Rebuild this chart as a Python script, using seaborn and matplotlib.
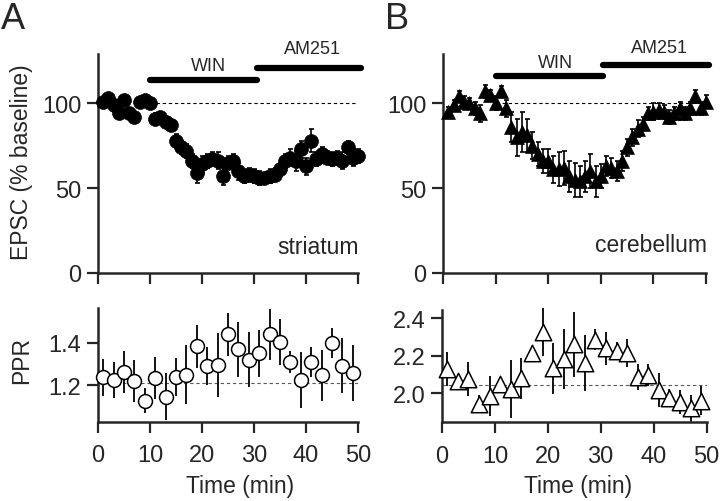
import numpy as np
import matplotlib
matplotlib.use("Agg")
import matplotlib.pyplot as plt
import seaborn as sns

sns.set_style("ticks")
plt.rcParams["font.family"] = ["Liberation Sans", "DejaVu Sans"]

# --- data ---
time_epsc = np.arange(1, 51)
epsc_str = [101, 103, 99, 94, 102, 94, 92, 101, 102, 100,
            91, 92, 89, 87, 78, 74, 72, 66, 59, 64,
            66, 67, 66, 57, 65, 66, 60, 57, 58, 57,
            56, 56, 57, 58, 61, 66, 68, 66, 73, 63,
            78, 67, 70, 68, 67, 68, 66, 74, 68, 69]
epsc_str_err = [2, 2, 2, 3, 2, 3, 3, 2, 2, 2,
                3, 3, 3, 3, 4, 4, 4, 4, 6, 5,
                4, 4, 5, 5, 4, 4, 5, 4, 4, 4,
                4, 3, 4, 4, 4, 4, 5, 6, 5, 5,
                7, 4, 4, 4, 4, 4, 5, 4, 5, 4]
epsc_cb = [95, 99, 104, 101, 100, 97, 94, 107, 105, 100,
           107, 97, 86, 80, 83, 81, 75, 70, 66, 66,
           61, 61, 62, 57, 55, 54, 57, 60, 54, 57,
           63, 62, 60, 66, 74, 80, 85, 88, 94, 95,
           96, 95, 92, 94, 97, 94, 97, 104, 97, 101]
epsc_cb_err = [3, 3, 3, 3, 3, 4, 5, 4, 3, 4,
               3, 5, 9, 11, 12, 10, 8, 7, 7, 7,
               8, 10, 10, 9, 10, 9, 9, 10, 9, 7,
               6, 6, 6, 6, 5, 5, 5, 4, 4, 5,
               4, 4, 4, 4, 4, 4, 4, 4, 4, 4]

time_ppr = np.arange(1, 50, 2)
ppr_str = [1.237, 1.225, 1.264, 1.221, 1.127, 1.234, 1.146, 1.240, 1.250, 1.383,
           1.292, 1.295, 1.440, 1.370, 1.320, 1.350, 1.440, 1.405, 1.310, 1.225,
           1.310, 1.247, 1.398, 1.292, 1.258]
ppr_str_err = [0.088, 0.086, 0.10, 0.10, 0.06, 0.10, 0.11, 0.09, 0.14, 0.10,
               0.09, 0.15, 0.10, 0.13, 0.13, 0.11, 0.12, 0.11, 0.05, 0.13,
               0.07, 0.12, 0.07, 0.13, 0.13]
ppr_cb = [2.129, 2.066, 2.075, 1.941, 1.982, 2.048, 2.021, 2.080, 2.212, 2.325,
          2.132, 2.182, 2.262, 2.161, 2.286, 2.239, 2.227, 2.214, 2.084, 2.096,
          2.018, 1.973, 1.950, 1.918, 1.959]
ppr_cb_err = [0.092, 0.036, 0.089, 0.049, 0.107, 0.04, 0.154, 0.11, 0.04, 0.129,
              0.136, 0.16, 0.174, 0.149, 0.058, 0.089, 0.045, 0.074, 0.069, 0.06,
              0.091, 0.046, 0.064, 0.073, 0.077]

ppr_base_str = 1.21
ppr_base_cb = 2.043
win_period = (10, 30.5)
am251_period = (30.5, 50.6)

fig = plt.figure(figsize=(7.2, 5.02), dpi=100)
W, H = 720.0, 502.0


def make_ax(x0, x1, ytop, ybot):
    return fig.add_axes([x0 / W, 1 - ybot / H, (x1 - x0) / W, (ybot - ytop) / H])


ax_a = make_ax(98, 358, 55, 274)
ax_b = make_ax(443, 706, 55, 274)
ax_c = make_ax(98, 358, 308.5, 422.5)
ax_d = make_ax(442, 706.5, 311, 423.3)

tick_fs = 17
lab_fs = 16.5

for ax in (ax_a, ax_b, ax_c, ax_d):
    sns.despine(ax=ax)
    for s in ("left", "bottom"):
        ax.spines[s].set_linewidth(1.8)
    ax.tick_params(axis="both", direction="out", length=8, width=1.6,
                   labelsize=tick_fs, pad=4)
    ax.tick_params(axis="x", pad=8)
    ax.set_xlim(0, 50)
    ax.set_xticks([0, 10, 20, 30, 40, 50])
    ax.set_facecolor("none")

# --- EPSC panels ---
for ax, y, e, mk, ms, bars, lv in (
        (ax_a, epsc_str, epsc_str_err, "o", 100, (113.4, 120.6), (117.3, 127.0)),
        (ax_b, epsc_cb, epsc_cb_err, "^", 100, (116.0, 122.6), (119.0, 128.0))):
    ax.set_ylim(0, 129)
    ax.set_yticks([0, 50, 100])
    ax.set_xticklabels([])
    ax.plot([10, 50], [100, 100], ls=(0, (3, 2.5)), color="k", lw=0.8, zorder=1)
    ax.errorbar(time_epsc, y, yerr=e, fmt="none", ecolor="k", elinewidth=1.2,
                capsize=1.8, capthick=1.2, zorder=2, clip_on=False)
    sns.scatterplot(x=time_epsc, y=y, ax=ax, marker=mk, s=ms, color="k",
                    edgecolor="k", linewidth=0.5, zorder=3, clip_on=False,
                    legend=False)
    ax.plot(win_period, [bars[0]] * 2, color="k", lw=4.5,
            solid_capstyle="round", clip_on=False)
    ax.plot(am251_period, [bars[1]] * 2, color="k", lw=4.5,
            solid_capstyle="round", clip_on=False)
    ax.text(21.3, lv[0], "WIN", ha="center", va="bottom", fontsize=13,
            clip_on=False)
    ax.text(41.2, lv[1], "AM251", ha="center", va="bottom", fontsize=13,
            clip_on=False)

ax_a.text(50.2, 12, "striatum", ha="right", va="baseline", fontsize=lab_fs)
ax_b.text(50.2, 13, "cerebellum", ha="right", va="baseline", fontsize=lab_fs)

# --- PPR panels ---
for ax, y, e, mk, ms, base, lim, ticks, lx in (
        (ax_c, ppr_str, ppr_str_err, "o", 100, ppr_base_str, (1.029, 1.567),
         [1.2, 1.4], 0.545),
        (ax_d, ppr_cb, ppr_cb_err, "^", 140, ppr_base_cb, (1.843, 2.445),
         [2.0, 2.2, 2.4], 0.515)):
    ax.set_ylim(*lim)
    ax.set_yticks(ticks)
    ax.set_yticklabels([f"{t:.1f}" for t in ticks])
    ax.plot([0, 50], [base, base], ls=(0, (3, 2.5)), color="0.35", lw=0.8,
            zorder=1)
    ax.errorbar(time_ppr, y, yerr=e, fmt="none", ecolor="k", elinewidth=1.3,
                capsize=0, zorder=2, clip_on=False)
    sns.scatterplot(x=time_ppr, y=y, ax=ax, marker=mk, s=ms, color="white",
                    edgecolor="k", linewidth=1.1, zorder=3, clip_on=False,
                    legend=False)
    ax.set_xlabel("Time (min)", fontsize=lab_fs, labelpad=2)
    ax.xaxis.set_label_coords(lx, -0.46)

fig.text(22 / W, 1 - 162 / H, "EPSC (% baseline)", rotation=90, ha="center",
         va="center", fontsize=lab_fs)
fig.text(22 / W, 1 - 360 / H, "PPR", rotation=90, ha="center", va="center",
         fontsize=lab_fs)
fig.text(1 / W, 1 - 2 / H, "A", ha="left", va="top", fontsize=26)
fig.text(385 / W, 1 - 2 / H, "B", ha="left", va="top", fontsize=26)

fig.savefig("out.png", dpi=100)
